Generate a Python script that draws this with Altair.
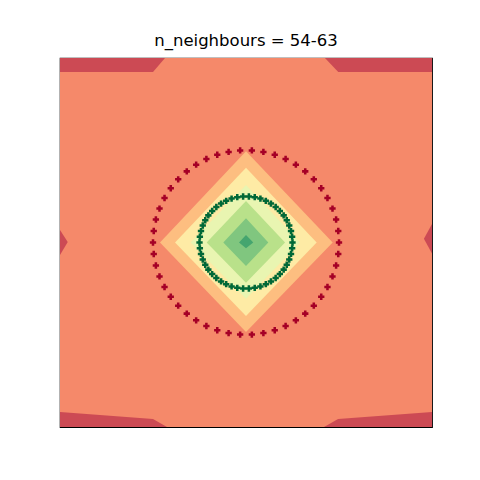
import altair as alt
import pandas as pd

# ---- scatter points ----
outer_x = [1.000, 0.992, 0.969, 0.930, 0.876, 0.809, 0.729, 0.637, 0.536, 0.426,
           0.309, 0.187, 0.063, -0.063, -0.187, -0.309, -0.426, -0.536, -0.637, -0.729,
           -0.809, -0.876, -0.930, -0.969, -0.992, -1.000, -0.992, -0.969, -0.930, -0.876,
           -0.809, -0.729, -0.637, -0.536, -0.426, -0.309, -0.187, -0.063, 0.063, 0.187,
           0.309, 0.426, 0.536, 0.637, 0.729, 0.809, 0.876, 0.930, 0.969, 0.992]
outer_y = [0.000, 0.125, 0.249, 0.368, 0.482, 0.588, 0.685, 0.771, 0.844, 0.905,
           0.951, 0.982, 0.998, 0.998, 0.982, 0.951, 0.905, 0.844, 0.771, 0.685,
           0.588, 0.482, 0.368, 0.249, 0.125, 0.000, -0.125, -0.249, -0.368, -0.482,
           -0.588, -0.685, -0.771, -0.844, -0.905, -0.951, -0.982, -0.998, -0.998, -0.982,
           -0.951, -0.905, -0.844, -0.771, -0.685, -0.588, -0.482, -0.368, -0.249, -0.125]
inner_x = [0.500, 0.496, 0.484, 0.465, 0.438, 0.405, 0.364, 0.319, 0.268, 0.213,
           0.155, 0.094, 0.031, -0.031, -0.094, -0.155, -0.213, -0.268, -0.319, -0.364,
           -0.405, -0.438, -0.465, -0.484, -0.496, -0.500, -0.496, -0.484, -0.465, -0.438,
           -0.405, -0.364, -0.319, -0.268, -0.213, -0.155, -0.094, -0.031, 0.031, 0.094,
           0.155, 0.213, 0.268, 0.319, 0.364, 0.405, 0.438, 0.465, 0.484, 0.496]
inner_y = [0.000, 0.063, 0.124, 0.184, 0.241, 0.294, 0.342, 0.385, 0.422, 0.452,
           0.476, 0.491, 0.499, 0.499, 0.491, 0.476, 0.452, 0.422, 0.385, 0.342,
           0.294, 0.241, 0.184, 0.124, 0.063, 0.000, -0.063, -0.124, -0.184, -0.241,
           -0.294, -0.342, -0.385, -0.422, -0.452, -0.476, -0.491, -0.499, -0.499, -0.491,
           -0.476, -0.452, -0.422, -0.385, -0.342, -0.294, -0.241, -0.184, -0.124, -0.063]

# ---- filled contour regions (vertices) ----
# each region: x list, upper y list, lower y list, colour
region_names = ["bg", "tl", "tr", "bl", "br", "lt", "rt",
                "d1", "d2", "d3", "d4", "d5", "d6"]
region_x = [
    [-2.0, 2.0],
    [-2.0, -1.0, -0.871],
    [0.849, 0.992, 2.0],
    [-2.0, -1.0, -0.849],
    [0.839, 0.99, 2.0],
    [-2.0, -1.917],
    [1.913, 2.0],
    [-0.925, 0.0, 0.932],
    [-0.763, 0.0, 0.760],
    [-0.595, 0.0, 0.580],
    [-0.423, 0.0, 0.420],
    [-0.244, 0.0, 0.240],
    [-0.075, 0.0, 0.078],
]
region_y_hi = [
    [2.0, 2.0],
    [2.0, 2.0, 2.0],
    [2.0, 2.0, 2.0],
    [-1.837, -1.913, -2.0],
    [-2.0, -1.913, -1.837],
    [0.136, 0.005],
    [0.04, 0.20],
    [0.0, 0.990, 0.0],
    [0.0, 0.810, 0.0],
    [0.0, 0.623, 0.0],
    [0.0, 0.450, 0.0],
    [0.0, 0.262, 0.0],
    [0.0, 0.080, 0.0],
]
region_y_lo = [
    [-2.0, -2.0],
    [1.848, 1.848, 2.0],
    [2.0, 1.848, 1.848],
    [-2.0, -2.0, -2.0],
    [-2.0, -2.0, -2.0],
    [-0.136, 0.005],
    [0.04, -0.12],
    [0.0, -0.970, 0.0],
    [0.0, -0.797, 0.0],
    [0.0, -0.610, 0.0],
    [0.0, -0.436, 0.0],
    [0.0, -0.255, 0.0],
    [0.0, -0.063, 0.0],
]
region_colors = ["#f5896a", "#cc4a54", "#cc4a54", "#cc4a54", "#cc4a54", "#cc4a54", "#cc4a54",
                 "#fdbe80", "#feeba5", "#e9f5b1", "#b9e18a", "#80c67f", "#45a56f"]

rows = []
for name, xs, his, los in zip(region_names, region_x, region_y_hi, region_y_lo):
    for x, hi, lo in zip(xs, his, los):
        rows.append({"region": name, "x": x, "y": hi, "y2": lo})
regions = pd.DataFrame(rows)

pts = pd.DataFrame({
    "x": outer_x + inner_x,
    "y": outer_y + inner_y,
    "cls": ["outer"] * len(outer_x) + ["inner"] * len(inner_x),
})

xs = alt.Scale(domain=[-2, 2], nice=False, zero=False)
ys = alt.Scale(domain=[-2, 2], nice=False, zero=False)

layers = []
for name, col in zip(region_names, region_colors):
    layers.append(
        alt.Chart(regions).transform_filter(alt.datum.region == name)
        .mark_area(color=col, opacity=1, interpolate="linear", orient="vertical")
        .encode(x=alt.X("x:Q", scale=xs, axis=None),
                y=alt.Y("y:Q", scale=ys, axis=None),
                y2="y2:Q")
    )

points = alt.Chart(pts).mark_point(shape="cross", filled=True, size=40, opacity=1, strokeWidth=0).encode(
    x=alt.X("x:Q", scale=xs, axis=None),
    y=alt.Y("y:Q", scale=ys, axis=None),
    color=alt.Color("cls:N", scale=alt.Scale(domain=["outer", "inner"], range=["#a50026", "#006837"]), legend=None),
)
layers.append(points)

chart = alt.layer(*layers).properties(
    width=372, height=369,
    title=alt.TitleParams("n_neighbours = 54-63", font="DejaVu Sans", fontSize=16.5,
                          fontWeight="normal", color="black", offset=-7, baseline="bottom"),
    autosize=alt.AutoSizeParams(type="none"),
    padding={"left": 60, "top": 58, "right": 48, "bottom": 53},
).configure_view(stroke="black", strokeWidth=1.2)

chart.save("out.html", embed_options={"renderer": "svg", "actions": False})
